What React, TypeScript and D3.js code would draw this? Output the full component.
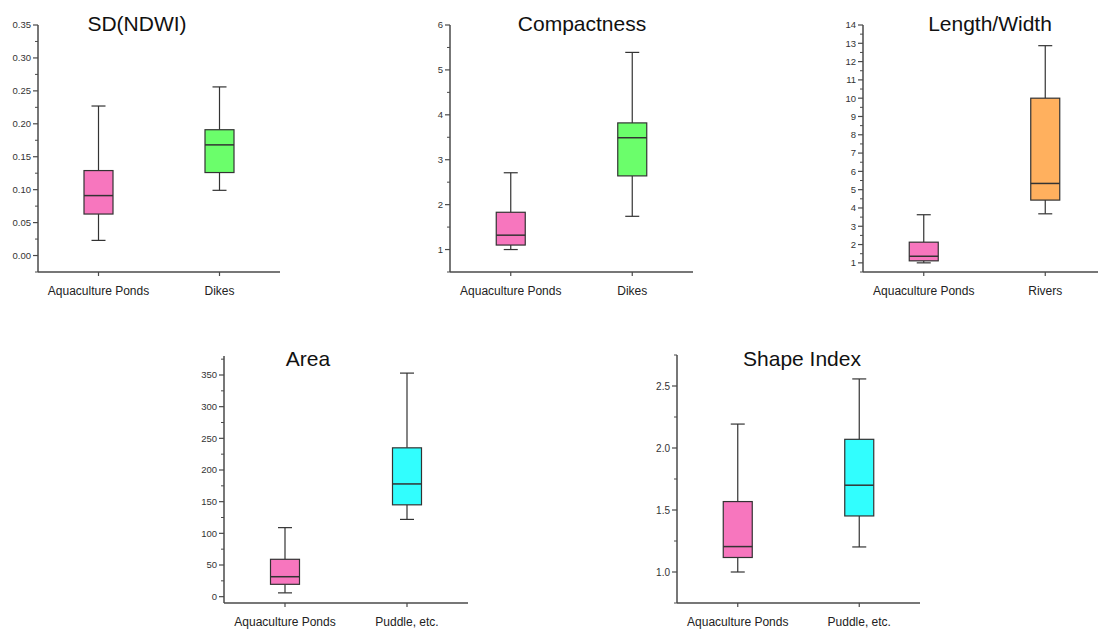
import React from 'react'
import * as d3 from 'd3'

// box stats per category: [whisker low, Q1, median, Q3, whisker high]
const sdCategories = ['Aquaculture Ponds', 'Dikes']
const sdPonds = [0.023, 0.063, 0.091, 0.129, 0.227]
const sdDikes = [0.099, 0.126, 0.168, 0.191, 0.256]
const sdTicks = [0, 0.05, 0.1, 0.15, 0.2, 0.25, 0.3, 0.35]

const compCategories = ['Aquaculture Ponds', 'Dikes']
const compPonds = [1.0, 1.1, 1.32, 1.83, 2.71]
const compDikes = [1.74, 2.64, 3.49, 3.82, 5.39]
const compTicks = [1, 2, 3, 4, 5, 6]

const lwCategories = ['Aquaculture Ponds', 'Rivers']
const lwPonds = [1.0, 1.11, 1.36, 2.13, 3.63]
const lwRivers = [3.68, 4.43, 5.34, 10.0, 12.87]
const lwTicks = [1, 2, 3, 4, 5, 6, 7, 8, 9, 10, 11, 12, 13, 14]

const areaCategories = ['Aquaculture Ponds', 'Puddle, etc.']
const areaPonds = [6, 19.5, 31.5, 59, 109]
const areaPuddle = [122, 145, 178, 235, 353]
const areaTicks = [0, 50, 100, 150, 200, 250, 300, 350]

const shapeCategories = ['Aquaculture Ponds', 'Puddle, etc.']
const shapePonds = [1.0, 1.117, 1.205, 1.568, 2.193]
const shapePuddle = [1.202, 1.452, 1.7, 2.07, 2.557]
const shapeTicks = [1.0, 1.5, 2.0, 2.5]

const PINK = '#f776be'
const GREEN = '#6bfe6b'
const ORANGE = '#ffb05e'
const CYAN = '#31fefe'

const panels = [
  {
    title: 'SD(NDWI)', titleX: 137, titleY: 31,
    x0: 38, x1: 280, top: 25, bottom: 272,
    domain: [-0.025, 0.35], ticks: sdTicks, minor: 0.025, fmt: '.2f', fs: 9.5,
    categories: sdCategories, stats: [sdPonds, sdDikes], colors: [PINK, GREEN],
  },
  {
    title: 'Compactness', titleX: 582, titleY: 31,
    x0: 450, x1: 693, top: 25, bottom: 272,
    domain: [0.5, 6], ticks: compTicks, minor: 0.5, fmt: 'd', fs: 9.5,
    categories: compCategories, stats: [compPonds, compDikes], colors: [PINK, GREEN],
  },
  {
    title: 'Length/Width', titleX: 990, titleY: 31,
    x0: 863, x1: 1106, top: 25, bottom: 272,
    domain: [0.5, 14], ticks: lwTicks, minor: 0.5, fmt: 'd', fs: 9.5,
    categories: lwCategories, stats: [lwPonds, lwRivers], colors: [PINK, ORANGE],
  },
  {
    title: 'Area', titleX: 308, titleY: 366,
    x0: 224, x1: 468, top: 356, bottom: 603,
    domain: [-10, 380], ticks: areaTicks, minor: 25, fmt: 'd', fs: 9.5,
    categories: areaCategories, stats: [areaPonds, areaPuddle], colors: [PINK, CYAN],
  },
  {
    title: 'Shape Index', titleX: 802, titleY: 366,
    x0: 677, x1: 920, top: 355, bottom: 603,
    domain: [0.75, 2.75], ticks: shapeTicks, minor: 0.25, fmt: '.1f', fs: 10,
    categories: shapeCategories, stats: [shapePonds, shapePuddle], colors: [PINK, CYAN],
  },
]

const AXIS = '#4a4a4a'
const STROKE = '#333'

function Panel({ p }: { p: any }) {
  const y = d3.scaleLinear().domain(p.domain).range([p.bottom, p.top])
  const x = d3.scalePoint().domain(p.categories).range([p.x0, p.x1]).padding(0.5)
  const fmt = d3.format(p.fmt)
  // minor ticks between the majors
  const minors = d3.range(
    Math.ceil(p.domain[0] / p.minor) * p.minor,
    p.domain[1] + 1e-9,
    p.minor
  ).filter(v => !p.ticks.some((t: number) => Math.abs(t - v) < 1e-9))
  const boxW = 29
  const capW = 14

  return (
    <g>
      <text x={p.titleX} y={p.titleY} textAnchor="middle" fontSize={21} fill="#111">{p.title}</text>
      {/* y axis */}
      <line x1={p.x0} x2={p.x0} y1={p.top} y2={p.bottom} stroke={AXIS} strokeWidth={1.5} />
      {p.ticks.map((t: number) => (
        <g key={'t' + t}>
          <line x1={p.x0 - 5} x2={p.x0} y1={y(t)} y2={y(t)} stroke={AXIS} strokeWidth={1.2} />
          <text x={p.x0 - 7} y={y(t)} dy="0.35em" textAnchor="end" fontSize={p.fs} fill="#333">{fmt(t)}</text>
        </g>
      ))}
      {minors.map((t: number) => (
        <line key={'m' + t} x1={p.x0 - 3} x2={p.x0} y1={y(t)} y2={y(t)} stroke={AXIS} strokeWidth={1} />
      ))}
      {/* x axis */}
      <line x1={p.x0} x2={p.x1} y1={p.bottom} y2={p.bottom} stroke={AXIS} strokeWidth={1.5} />
      {p.categories.map((c: string) => (
        <g key={c}>
          <line x1={x(c)} x2={x(c)} y1={p.bottom} y2={p.bottom + 4} stroke={AXIS} strokeWidth={1.2} />
          <text x={x(c)} y={p.bottom + 23} textAnchor="middle" fontSize={12} fill="#222">{c}</text>
        </g>
      ))}
      {/* boxes */}
      {p.categories.map((c: string, i: number) => {
        const [lo, q1, med, q3, hi] = p.stats[i]
        const cx = x(c) as number
        return (
          <g key={'b' + c}>
            <line x1={cx} x2={cx} y1={y(hi)} y2={y(q3)} stroke={STROKE} strokeWidth={1.2} />
            <line x1={cx} x2={cx} y1={y(q1)} y2={y(lo)} stroke={STROKE} strokeWidth={1.2} />
            <line x1={cx - capW / 2} x2={cx + capW / 2} y1={y(hi)} y2={y(hi)} stroke={STROKE} strokeWidth={1.2} />
            <line x1={cx - capW / 2} x2={cx + capW / 2} y1={y(lo)} y2={y(lo)} stroke={STROKE} strokeWidth={1.2} />
            <rect x={cx - boxW / 2} y={y(q3)} width={boxW} height={y(q1) - y(q3)}
              fill={p.colors[i]} stroke={STROKE} strokeWidth={1.2} />
            <line x1={cx - boxW / 2} x2={cx + boxW / 2} y1={y(med)} y2={y(med)} stroke={STROKE} strokeWidth={1.5} />
          </g>
        )
      })}
    </g>
  )
}

export default function App() {
  return (
    <svg width={1098} height={630} style={{ position: 'absolute', left: 0, top: 0, background: '#fff' }}
      fontFamily="'Liberation Sans', Arial, sans-serif">
      {panels.map(p => <Panel key={p.title} p={p} />)}
    </svg>
  )
}
